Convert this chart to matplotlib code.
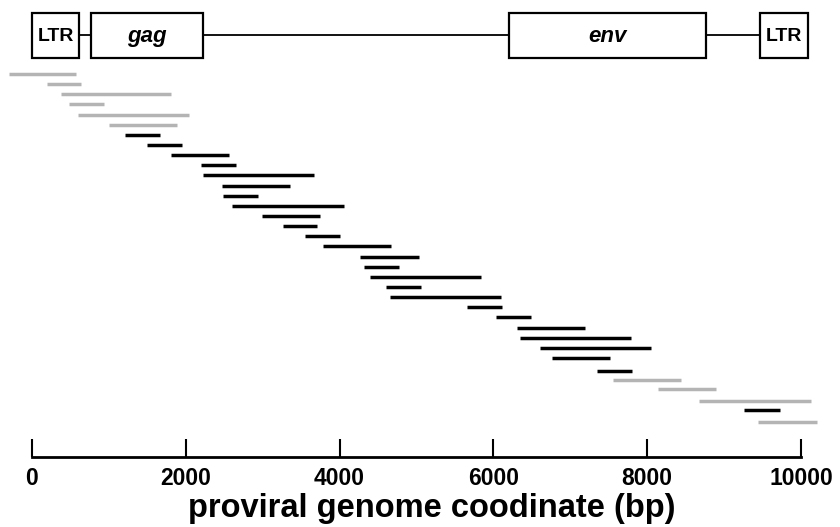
import matplotlib
matplotlib.use("Agg")
import matplotlib.pyplot as plt
from matplotlib.patches import Rectangle

plt.rcParams['font.family'] = ['Liberation Sans', 'DejaVu Sans']

# genome features: (name, start, end, italic)
feat_names = ["LTR", "gag", "env", "LTR"]
feat_start = [0, 770, 6200, 9470]
feat_end = [610, 2220, 8760, 10090]
feat_italic = [False, True, True, False]

# mapped fragments (start, end, row); gray = flanking / LTR-containing
frag_start = [-300, 195, 377, 481, 598, 1001, 1209, 1495, 1808, 2198,
              2224, 2471, 2484, 2601, 2991, 3260, 3546, 3788, 4269, 4313,
              4395, 4599, 4651, 5657, 6038, 6311, 6346, 6602, 6762, 7347,
              7559, 8137, 8677, 9263, 9445]
frag_end = [572, 637, 1808, 936, 2042, 1886, 1664, 1951, 2562, 2653,
            3667, 3355, 2939, 4057, 3745, 3710, 4001, 4668, 5029, 4769,
            5843, 5055, 6099, 6112, 6493, 7191, 7789, 8046, 7520, 7802,
            8439, 8895, 10126, 9723, 10204]
frag_row = list(range(29)) + [29.3, 30.2, 31.1, 32.2, 33.1, 34.3]
frag_gray = [True] * 6 + [False] * 23 + [False, True, True, True, False, True]

xticks = [0, 2000, 4000, 6000, 8000, 10000]

fig = plt.figure(figsize=(8.4, 5.27), dpi=100)
ax = fig.add_axes([0, 0, 1, 1])
ax.set_xlim(-416, 10507)
ax.set_ylim(44.67, -7.30)

# fragments
for s, e, r, g in zip(frag_start, frag_end, frag_row, frag_gray):
    ax.plot([s, e], [r, r], color='#b4b4b4' if g else 'black',
            lw=2.5, solid_capstyle='butt')

# genome map
top, bot = -6.0, -1.6
mid = (top + bot) / 2
ax.plot([feat_end[0], feat_start[-1]], [mid, mid], color='black', lw=1.3, zorder=2)
for name, s, e, it in zip(feat_names, feat_start, feat_end, feat_italic):
    ax.add_patch(Rectangle((s, top), e - s, bot - top, facecolor='white',
                           edgecolor='black', lw=1.6, zorder=3))
    ax.text((s + e) / 2, mid + 0.1, name, ha='center', va='center', zorder=4,
            fontsize=16 if it else 14, fontweight='bold',
            fontstyle='italic' if it else 'normal')

# axis
for side in ['left', 'right', 'top']:
    ax.spines[side].set_visible(False)
ax.spines['bottom'].set_position(('data', 37.8))
ax.spines['bottom'].set_bounds(0, 10000)
ax.spines['bottom'].set_linewidth(2.0)
ax.set_yticks([])
ax.set_xticks(xticks)
ax.set_xticklabels([str(t) for t in xticks], fontsize=16.5, fontweight='bold')
ax.tick_params(axis='x', direction='in', length=13, width=1.5, pad=7)
ax.set_xlabel("proviral genome coodinate (bp)", fontsize=23.5,
              fontweight='bold', va='baseline')
ax.xaxis.set_label_coords(432 / 840, 10 / 527)

fig.savefig("out.png", dpi=100)
